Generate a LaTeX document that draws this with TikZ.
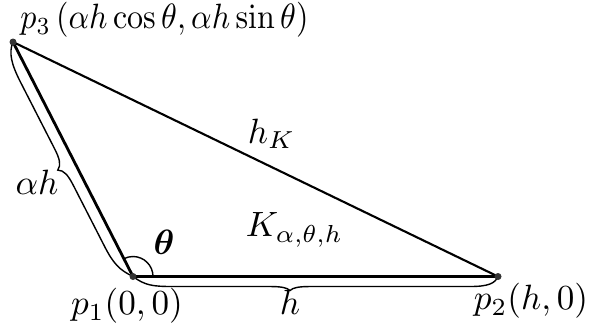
\documentclass[tikz,border=0pt]{standalone}
\usepackage{amsmath}
\usepackage{amssymb}
\usepackage{bm}
\usepackage{tikz}
\usetikzlibrary{arrows.meta,angles}

\begin{document}
\begin{tikzpicture}[>=Stealth, scale=1]

\useasboundingbox (0,0) rectangle (5.89,3.22);

% ---------------- VERTEXS ----------------

\coordinate (p1) at (1.33,0.455);
\coordinate (p2) at (4.98,0.455);
\coordinate (p3) at (0.13,2.80);


% ---------------- COSTATS ----------------

% Costat llarg
\draw[
    line width=0.6pt
] (p2) -- (p3);

% Costats de l'angle
\draw[
    line width=0.8pt
] (p3) -- (p1) -- (p2);

% Angle
\pic[
    draw,
    line width=0.4pt,
    angle radius=0.2cm
] {angle = p2--p1--p3};


% ---------------- CLAUS ----------------

% Clau de la base
\begin{scope}[shift={(p1)}]
\draw[
    line width=0.4pt
] (0,0)
    .. controls (0.12,-0.09) and (0.2,-0.10) .. (0.4,-0.10)
    -- (1.36,-0.10)
    .. controls (1.48,-0.10) and (1.54,-0.11) .. (1.57,-0.14)
    .. controls (1.60,-0.11) and (1.66,-0.10) .. (1.78,-0.10)
    -- (3.37,-0.10)
    .. controls (3.55,-0.10) and (3.62,-0.07) .. (3.65,0);
\end{scope}

% Clau del costat esquerre
\begin{scope}[shift={(p1)}, rotate=117.1]
\draw[
    line width=0.4pt
] (0,0)
    .. controls (0.12,0.09) and (0.2,0.116) .. (0.4,0.116)
    -- (1.08,0.116)
    .. controls (1.20,0.116) and (1.26,0.13) .. (1.29,0.185)
    .. controls (1.32,0.13) and (1.38,0.116) .. (1.50,0.116)
    -- (2.24,0.116)
    .. controls (2.44,0.116) and (2.56,0.09) .. (2.634,0);
\end{scope}


% ---------------- PUNTS ----------------

\fill[black!80] (p1) circle (0.035);
\fill[black!80] (p2) circle (0.035);
\fill[black!80] (p3) circle (0.035);


% ---------------- ETIQUETES ----------------

\node (lp1) at (1.27,0.16) {$p_1(0,0)$};
\node (lp2) at (5.31,0.21) {$p_2(h,0)$};
\node[xscale=0.91] (lp3) at (1.645,3.02)
    {$p_3\,(\alpha h\cos\theta,\alpha h\sin\theta)$};

\node (lah) at (0.37,1.40) {$\alpha h$};
\node (lh) at (2.90,0.20) {$h$};
\node (lhK) at (2.715,1.885) {$h_K$};
\node (lK) at (2.945,0.92) {$K_{\alpha,\theta,h}$};
\node (lth) at (1.64,0.795) {$\bm{\theta}$};

\end{tikzpicture}
\end{document}
